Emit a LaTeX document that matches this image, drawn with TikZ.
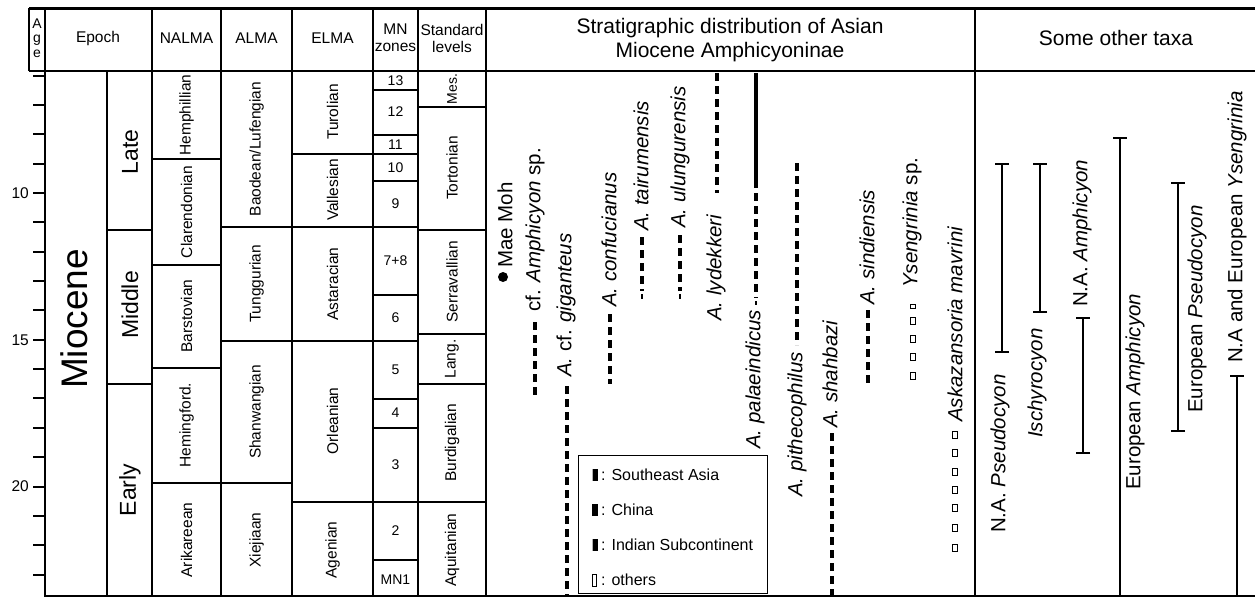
\documentclass[tikz,border=0pt]{standalone}
\usepackage{fontspec}
\setmainfont{Liberation Sans}
\usetikzlibrary{positioning,arrows.meta}

\begin{document}
\begin{tikzpicture}[x=1pt, y=-1pt,
  rule/.style={line width=2pt},
  thin rule/.style={line width=1.6pt},
  hd/.style={font=\fontsize{15.5}{17}\selectfont, align=center},
  ttl/.style={font=\fontsize{21}{24}\selectfont, align=center},
  unit/.style={font=\fontsize{15.5}{17}\selectfont, rotate=90},
  zone/.style={font=\fontsize{14}{16}\selectfont},
  taxon/.style={font=\fontsize{20.5}{24}\selectfont, rotate=90, anchor=west, inner sep=0pt},
  tbar/.style={line width=4.5pt, dash pattern=on 8pt off 5pt},
  tail/.style={line width=1.5pt},
  rng/.style={line width=2pt, {Bar[width=14pt]}-{Bar[width=14pt]}},
  rngtop/.style={line width=2pt, {Bar[width=14pt]}-},
  sq/.style={draw, line width=0.8pt, minimum width=4.5pt, minimum height=7pt, inner sep=0pt},
  lgd/.style={font=\fontsize{16}{18}\selectfont, anchor=west, inner sep=0pt}
]
\useasboundingbox (0,0) rectangle (1255,598);
% frame
\draw[line width=3pt] (29,8) -- (1255,8);
\draw[rule] (29,71) -- (1255,71);
\draw[rule] (29,8) -- (29,71);
\foreach \x in {45,152,221,292,373,418,486,975}
  \draw[rule] (\x,8) -- (\x,597);
\draw[rule] (107,71) -- (107,597);
\draw[rule] (45,596) -- (1255,596);
% header
\node[font=\fontsize{14}{14.5}\selectfont, align=center] (agehd) at (37,38) {A\\g\\e};
\node[hd] (epochhd) at (98,38) {Epoch};
\node[hd] (nalmahd) at (186.5,38) {NALMA};
\node[hd] (almahd) at (256.5,38) {ALMA};
\node[hd] (elmahd) at (332.5,38) {ELMA};
\node[hd] (mnhd) at (395.5,38) {MN\\zones};
\node[hd] (stdhd) at (452,38) {Standard\\levels};
\node[ttl] (strathd) at (730,40) {Stratigraphic distribution of Asian\\Miocene Amphicyoninae};
\node[ttl] (otherhd) at (1116,38) {Some other taxa};
% age axis
\foreach \t in {6,...,23}
  \draw[rule] (33,{193+29.35*(\t-10)}) -- (45,{193+29.35*(\t-10)});
\foreach \t in {10,15,20}
  \node[hd, anchor=east, inner sep=1pt] (age\t) at (30,{193+29.35*(\t-10)}) {\t};
% epochs
\draw[thin rule] (107,230) -- (152,230);
\draw[thin rule] (107,384) -- (152,384);
\node[font=\fontsize{37}{40}\selectfont, rotate=90] (mio) at (74,319) {Miocene};
\node[font=\fontsize{23}{26}\selectfont, rotate=90] (late) at (130,152) {Late};
\node[font=\fontsize{23}{26}\selectfont, rotate=90] (middle) at (130,305) {Middle};
\node[font=\fontsize{23}{26}\selectfont, rotate=90] (early) at (130,490) {Early};
% NALMA
\foreach \y in {159,265,368,483} \draw[thin rule] (152,\y) -- (221,\y);
\foreach \y/\name [count=\i] in {115/Hemphillian, 212/Clarendonian, 316/Barstovian, 425/Hemingford., 540/Arikareean}
  \node[unit] (nalma\i) at (186.5,\y) {\name};
% ALMA
\foreach \y in {227,341,483} \draw[thin rule] (221,\y) -- (292,\y);
\node[unit] (alma1) at (256.5,149) {Baodean/Lufengian};
\node[unit] (alma2) at (256.5,284) {Tunggurian};
\node[unit] (alma3) at (256.5,412) {Shanwangian};
\node[unit] (alma4) at (256.5,540) {Xiejiaan};
% ELMA
\foreach \y in {154,227,341,502} \draw[thin rule] (292,\y) -- (373,\y);
\foreach \y/\name [count=\i] in {112/Turolian, 190/Vallesian, 284/Astaracian, 421/Orleanian, 550/Agenian}
  \node[unit] (elma\i) at (332.5,\y) {\name};
% MN zones
\foreach \y in {90,135,154,181,227,295,341,399,428,502,560} \draw[thin rule] (373,\y) -- (418,\y);
\foreach \y/\name [count=\i] in {81/13, 112/12, 145/11, 168/10, 204/9, 261/7+8, 318/6, 370/5, 413/4, 465/3, 531/2, 580/MN1}
  \node[zone] (mn\i) at (395.5,\y) {\name};
% standard levels
\foreach \y in {107,230,334,384,502} \draw[thin rule] (418,\y) -- (486,\y);
\node[unit, font=\fontsize{14}{16}\selectfont] (std1) at (452,89) {Mes.};
\foreach \y/\name [count=\i from 2] in {168/Tortonian, 282/Serravallian, 359/Lang., 443/Burdigalian, 550/Aquitanian}
  \node[unit] (std\i) at (452,\y) {\name};
% Asian Amphicyoninae
\node[circle, fill, inner sep=0pt, minimum size=10pt] (maedot) at (503,277) {};
\node[taxon] (mae) at (505,268) {Mae Moh};
\node[taxon] (cfamph) at (535,312) {cf. \textit{Amphicyon} sp.};
\draw[tbar] (535,322) -- (535,396);
\node[taxon] (giga) at (566,377) {\textit{A.} cf. \textit{giganteus}};
\draw[tbar] (567,386) -- (567,597);
\node[taxon] (conf) at (609,307) {\textit{A. confucianus}};
\draw[tbar] (610,314) -- (610,384);
\node[taxon] (tair) at (641,231) {\textit{A. tairumensis}};
\draw[tbar] (642,237) -- (642,291);
\draw[tail] (642,294) -- (642,299);
\node[taxon] (ulun) at (680,228) {\textit{A. ulungurensis}};
\draw[tbar] (680,235) -- (680,291);
\draw[tail] (680,294) -- (680,299);
\node[taxon] (lyde) at (716,321) {\textit{A. lydekkeri}};
\draw[tbar] (717,73) -- (717,193);
\node[taxon] (pala) at (755,449) {\textit{A. palaeindicus}};
\draw[line width=4pt] (756,73) -- (756,188);
\draw[tbar] (756,193) -- (756,298);
\draw[tail] (756,301) -- (756,305);
\node[taxon] (pith) at (797,497) {\textit{A. pithecophilus}};
\draw[tbar] (797,163) -- (797,345);
\node[taxon] (shah) at (830,428) {\textit{A. shahbazi}};
\draw[tbar] (832,433) -- (832,597);
\node[taxon] (sind) at (867,305) {\textit{A. sindiensis}};
\draw[tbar] (868,310) -- (868,383);
\node[taxon] (ysp) at (912,288) {\textit{Ysengrinia} sp.};
\node[sq, minimum height=4pt] (ysq0) at (913,306) {};
\foreach \y [count=\i] in {321,339,357,376} \node[sq] (ysq\i) at (913,\y) {};
\node[taxon] (aska) at (955,422) {\textit{Askazansoria mavrini}};
\foreach \y [count=\i] in {435,453,472,490,508,528,548} \node[sq] (asq\i) at (955,\y) {};
% legend
\node[draw, line width=1pt, minimum width=189pt, minimum height=138pt, anchor=north west, inner sep=0pt] (legend) at (578,455) {};
\fill[gray!60] (591.5,469) rectangle (593,481);
\fill (593,469) rectangle (597.5,481);
\node[lgd] (lse) at (601,475) {: Southeast Asia};
\fill (592,504) rectangle (597.5,516);
\node[lgd] (lch) at (601,510) {: China};
\fill[gray!60] (591.5,539) rectangle (593,551);
\fill (593,539) rectangle (597.5,551);
\node[lgd] (lin) at (601,545) {: Indian Subcontinent};
\draw[line width=0.8pt] (592.5,574) rectangle (596.5,586);
\node[lgd] (loth) at (601,580) {: others};
% some other taxa
\node[taxon] (napseu) at (1000,533) {N.A. \textit{Pseudocyon}};
\draw[rng] (1002,163) -- (1002,353);
\node[taxon] (isch) at (1037,438) {\textit{Ischyrocyon}};
\draw[rng] (1040,163) -- (1040,313);
\node[taxon] (naamph) at (1082,307) {N.A. \textit{Amphicyon}};
\draw[rng] (1083,317) -- (1083,454);
\node[taxon] (euamph) at (1135,490) {European \textit{Amphicyon}};
\draw[rngtop] (1120,137) -- (1120,596);
\node[taxon] (eupseu) at (1197,413) {European \textit{Pseudocyon}};
\draw[rng] (1178,182) -- (1178,432);
\node[taxon] (ysen) at (1237,363) {N.A and European \textit{Ysengrinia}};
\draw[rngtop] (1237,375) -- (1237,596);
\end{tikzpicture}
\end{document}
